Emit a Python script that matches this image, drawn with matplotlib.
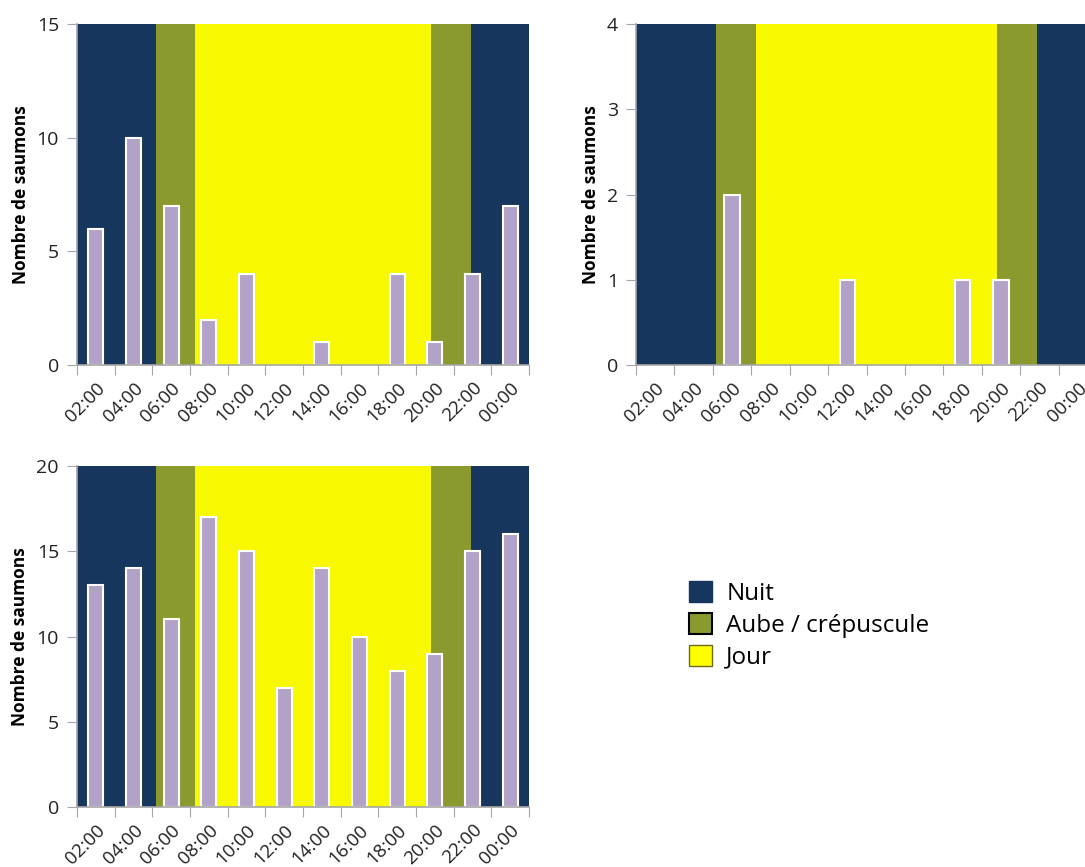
import numpy as np
import matplotlib
matplotlib.use("Agg")
from matplotlib import pyplot as plt
from matplotlib.patches import Patch

plt.rcParams['font.family'] = ['Open Sans', 'DejaVu Sans']

# categories (2-hour bins) and counts per panel
hours = ['02:00', '04:00', '06:00', '08:00', '10:00', '12:00',
         '14:00', '16:00', '18:00', '20:00', '22:00', '00:00']
counts_a = [6, 10, 7, 2, 4, 0, 1, 0, 4, 1, 4, 7]
counts_b = [0, 0, 2, 0, 0, 1, 0, 0, 1, 1, 0, 0]
counts_c = [13, 14, 11, 17, 15, 7, 14, 10, 8, 9, 15, 16]

# light periods, in clock hours (axis starts at 01:00)
dawn_start, dawn_end = 5.17, 7.25
dusk_start, dusk_end = 19.8, 21.9

NIGHT = '#17365D'
TWILIGHT = '#8B9A2F'
DAY = '#F8F800'
BAR = '#B3A2C8'
AXIS_GREY = '#A6A6A6'


def hour_to_x(h):
    return (h - 1.0) / 2.0


def draw_panel(ax, counts, ymax, ystep):
    n = len(hours)
    ax.set_xlim(0, n)
    ax.set_ylim(0, ymax)
    # background periods
    ax.axvspan(0, hour_to_x(dawn_start), color=NIGHT, lw=0, zorder=0)
    ax.axvspan(hour_to_x(dawn_start), hour_to_x(dawn_end), color=TWILIGHT, lw=0, zorder=0)
    ax.axvspan(hour_to_x(dawn_end), hour_to_x(dusk_start), color=DAY, lw=0, zorder=0)
    ax.axvspan(hour_to_x(dusk_start), hour_to_x(dusk_end), color=TWILIGHT, lw=0, zorder=0)
    ax.axvspan(hour_to_x(dusk_end), n, color=NIGHT, lw=0, zorder=0)

    x = np.arange(n) + 0.5
    counts = np.asarray(counts)
    edges = ['white' if c > 0 else 'none' for c in counts]  # empty bins draw nothing
    ax.bar(x, counts, width=0.4, color=BAR, edgecolor=edges, linewidth=1.5, zorder=2)

    ax.set_xticks(np.arange(n + 1))
    ax.set_xticklabels([])
    ax.set_xticks(x, minor=True)
    ax.set_xticklabels(hours, minor=True, rotation=45, ha='right',
                       rotation_mode='anchor', fontsize=13.5, color='#222222')
    ax.tick_params(axis='x', which='minor', length=0, pad=10)
    ax.tick_params(axis='x', which='major', length=7, color=AXIS_GREY)
    ax.set_yticks(np.arange(0, ymax + 1, ystep))
    ax.tick_params(axis='y', length=7, color=AXIS_GREY, labelsize=14,
                   labelcolor='#222222', pad=6)
    for side in ['top', 'right']:
        ax.spines[side].set_visible(False)
    for side in ['left', 'bottom']:
        ax.spines[side].set_color(AXIS_GREY)
        ax.spines[side].set_linewidth(1.2)
    ax.set_ylabel('Nombre de saumons', fontsize=12.5, fontweight='bold', labelpad=5)


fig = plt.figure(figsize=(10.85, 8.67), dpi=100)
W, H = 1085.0, 867.0

ax1 = fig.add_axes([77 / W, (H - 365) / H, 452 / W, 341 / H])
ax2 = fig.add_axes([636 / W, (H - 365) / H, 461 / W, 341 / H])
ax3 = fig.add_axes([77 / W, (H - 807) / H, 452 / W, 341 / H])

draw_panel(ax1, counts_a, 15, 5)
draw_panel(ax2, counts_b, 4, 1)
draw_panel(ax3, counts_c, 20, 5)

handles = [
    Patch(facecolor=NIGHT, edgecolor=NIGHT, label='Nuit'),
    Patch(facecolor=TWILIGHT, edgecolor='black', linewidth=1.5, label='Aube / crépuscule'),
    Patch(facecolor='#FFFF00', edgecolor='#6B6B20', linewidth=1.0, label='Jour'),
]
fig.legend(handles=handles, loc='upper left', bbox_to_anchor=(679 / W, (H - 571) / H),
           frameon=False, fontsize=17.5, handlelength=0.95, handleheight=0.95,
           handletextpad=0.6, labelspacing=0.3, borderaxespad=0)

fig.savefig('out.png', dpi=100)
